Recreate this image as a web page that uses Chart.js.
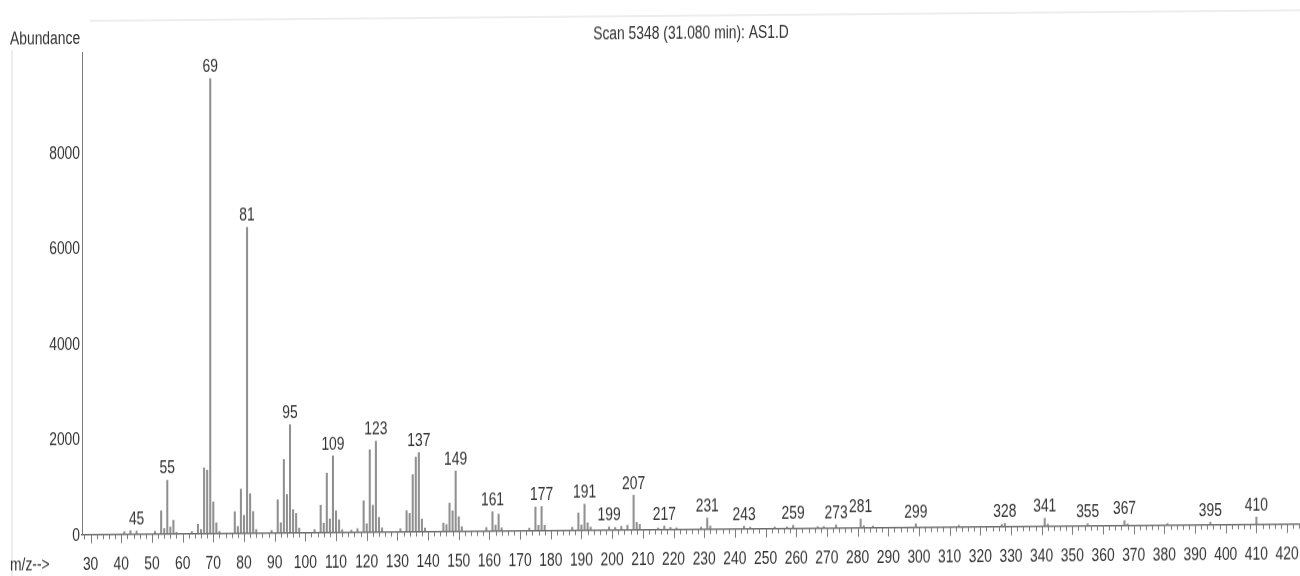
<!DOCTYPE html>
<html>
<head>
<meta charset="utf-8">
<script src="https://cdn.jsdelivr.net/npm/chart.js@4.4.1/dist/chart.umd.min.js"></script>
<style>
  html, body { margin: 0; padding: 0; background: #ffffff; overflow: hidden; }
  #wrap { position: absolute; left: 0; top: 0; width: 1300px; height: 576px;
          transform-origin: 650px 288px; transform: skewY(-0.5deg); }
  canvas { display: block; }
</style>
</head>
<body>
<div id="wrap"><canvas id="spectrum" width="1300" height="576"></canvas></div>
<script>
// Mass spectrum of scan 5348 (31.080 min), sample AS1.D
const mzValues = [
  41, 43, 45, 51, 53, 54, 55, 56, 57, 58, 63, 65, 66, 67, 68, 69, 70, 71, 72,
  77, 78, 79, 80, 81, 82, 83, 84, 89, 91, 92, 93, 94, 95, 96, 97, 98,
  103, 105, 106, 107, 108, 109, 110, 111, 112, 115, 117, 119, 120, 121, 122, 123, 124, 125,
  131, 133, 134, 135, 136, 137, 138, 139, 145, 146, 147, 148, 149, 150, 151,
  159, 161, 162, 163, 164, 173, 175, 176, 177, 178, 187, 189, 190, 191, 192, 193,
  199, 201, 203, 205, 207, 208, 209, 215, 217, 219, 221, 229, 231, 232,
  243, 245, 253, 257, 259, 267, 269, 273, 281, 282, 285, 299, 313,
  327, 328, 341, 342, 355, 367, 368, 381, 395, 410
];
const abundances = [
  50, 70, 60, 50, 480, 110, 1120, 140, 280, 30, 40, 190, 80, 1370, 1320, 9520, 660, 220, 40,
  450, 140, 920, 370, 6400, 820, 450, 70, 50, 690, 210, 1530, 800, 2260, 480, 400, 90,
  60, 570, 190, 1240, 280, 1600, 450, 260, 50, 40, 70, 650, 170, 1720, 560, 1900, 300, 80,
  60, 440, 380, 1190, 1560, 1650, 260, 70, 170, 140, 590, 430, 1260, 300, 90,
  70, 400, 120, 350, 60, 50, 490, 110, 500, 110, 60, 360, 110, 540, 150, 60,
  60, 50, 70, 90, 720, 150, 110, 30, 70, 40, 30, 40, 230, 60,
  50, 30, 30, 30, 60, 30, 30, 60, 180, 40, 30, 70, 30,
  40, 60, 160, 40, 40, 100, 30, 30, 50, 150
];
// peaks annotated with their m/z
const labeledPeaks = [45, 55, 69, 81, 95, 109, 123, 137, 149, 161, 177, 191, 199, 207,
  217, 231, 243, 259, 273, 281, 299, 328, 341, 355, 367, 395, 410];
const yTickValues = [0, 2000, 4000, 6000, 8000];
const titleText = 'Scan 5348 (31.080 min): AS1.D';
const yAxisTitle = 'Abundance';
const xAxisTitle = 'm/z-->';

const FONT = "'Liberation Sans', Arial, sans-serif";
const TEXT = '#333333';
const SQUEEZE = 0.77;   // condensed lettering

const points = mzValues.map((m, i) => ({ x: m, y: abundances[i] }));

function narrowText(ctx, text, x, y, align) {
  ctx.save();
  ctx.translate(x, y);
  ctx.scale(SQUEEZE, 1);
  ctx.textAlign = align;
  ctx.textBaseline = 'alphabetic';
  ctx.fillText(text, 0, 0);
  ctx.restore();
}

const decorations = {
  id: 'decorations',
  beforeDraw(chart) {
    const ctx = chart.ctx;
    ctx.save();
    // faint page frame
    ctx.strokeStyle = '#ededed';
    ctx.lineWidth = 2;
    ctx.beginPath();
    ctx.moveTo(90, 16); ctx.lineTo(1300, 16);
    ctx.moveTo(12, 45); ctx.lineTo(12, 576);
    ctx.stroke();
    ctx.restore();
  },
  afterDraw(chart) {
    const ctx = chart.ctx;
    const xs = chart.scales.x, ys = chart.scales.y;
    const base = ys.getPixelForValue(0);
    ctx.save();
    // x tick marks: long every 10, short every 2
    ctx.strokeStyle = '#7a7a7a';
    ctx.lineWidth = 1;
    ctx.beginPath();
    xs.ticks.forEach(t => {
      const px = Math.round(xs.getPixelForValue(t.value)) + 0.5;
      const len = t.value % 10 === 0 ? 9 : 5;
      ctx.moveTo(px, base);
      ctx.lineTo(px, base + len);
    });
    ctx.stroke();

    ctx.fillStyle = TEXT;
    ctx.font = '18px ' + FONT;
    // x tick labels
    xs.ticks.forEach(t => {
      if (t.value % 10 === 0) narrowText(ctx, String(t.value), xs.getPixelForValue(t.value), 564.5, 'center');
    });
    // y tick labels
    ys.ticks.forEach(t => {
      narrowText(ctx, String(t.value), 80, ys.getPixelForValue(t.value) + 6.5, 'right');
    });
    // peak annotations
    labeledPeaks.forEach(m => {
      const idx = mzValues.indexOf(m);
      const top = ys.getPixelForValue(abundances[idx]);
      narrowText(ctx, String(m), xs.getPixelForValue(m), top - 6.5, 'center');
    });
    // titles
    narrowText(ctx, titleText, 691, 38.5, 'center');
    narrowText(ctx, yAxisTitle, 10, 38.5, 'left');
    narrowText(ctx, xAxisTitle, 10, 564.5, 'left');
    ctx.restore();
  }
};

new Chart(document.getElementById('spectrum'), {
  type: 'bar',
  data: {
    datasets: [{
      data: points,
      backgroundColor: '#909090',
      borderWidth: 0,
      barThickness: 1.4
    }]
  },
  options: {
    responsive: false,
    animation: false,
    layout: { padding: { top: 47, left: 0, right: 0, bottom: 0 } },
    plugins: { legend: { display: false }, tooltip: { enabled: false } },
    scales: {
      x: {
        type: 'linear',
        min: 27.2,
        max: 424.2,
        offset: false,
        grid: { display: true, drawOnChartArea: false, drawTicks: false },
        border: { display: true, color: '#6a6a6a', width: 1.5 },
        ticks: {
          display: false,
          stepSize: 2,
          includeBounds: false,
          autoSkip: false
        },
        afterFit: s => { s.height = 46.5; }
      },
      y: {
        min: 0,
        max: 10100,
        afterBuildTicks: s => { s.ticks = yTickValues.map(v => ({ value: v })); },
        grid: { display: true, drawOnChartArea: false, drawTicks: false },
        border: { display: true, color: '#7a7a7a', width: 1 },
        ticks: { display: false },
        afterFit: s => { s.width = 82; }
      }
    }
  },
  plugins: [decorations]
});
</script>
</body>
</html>
